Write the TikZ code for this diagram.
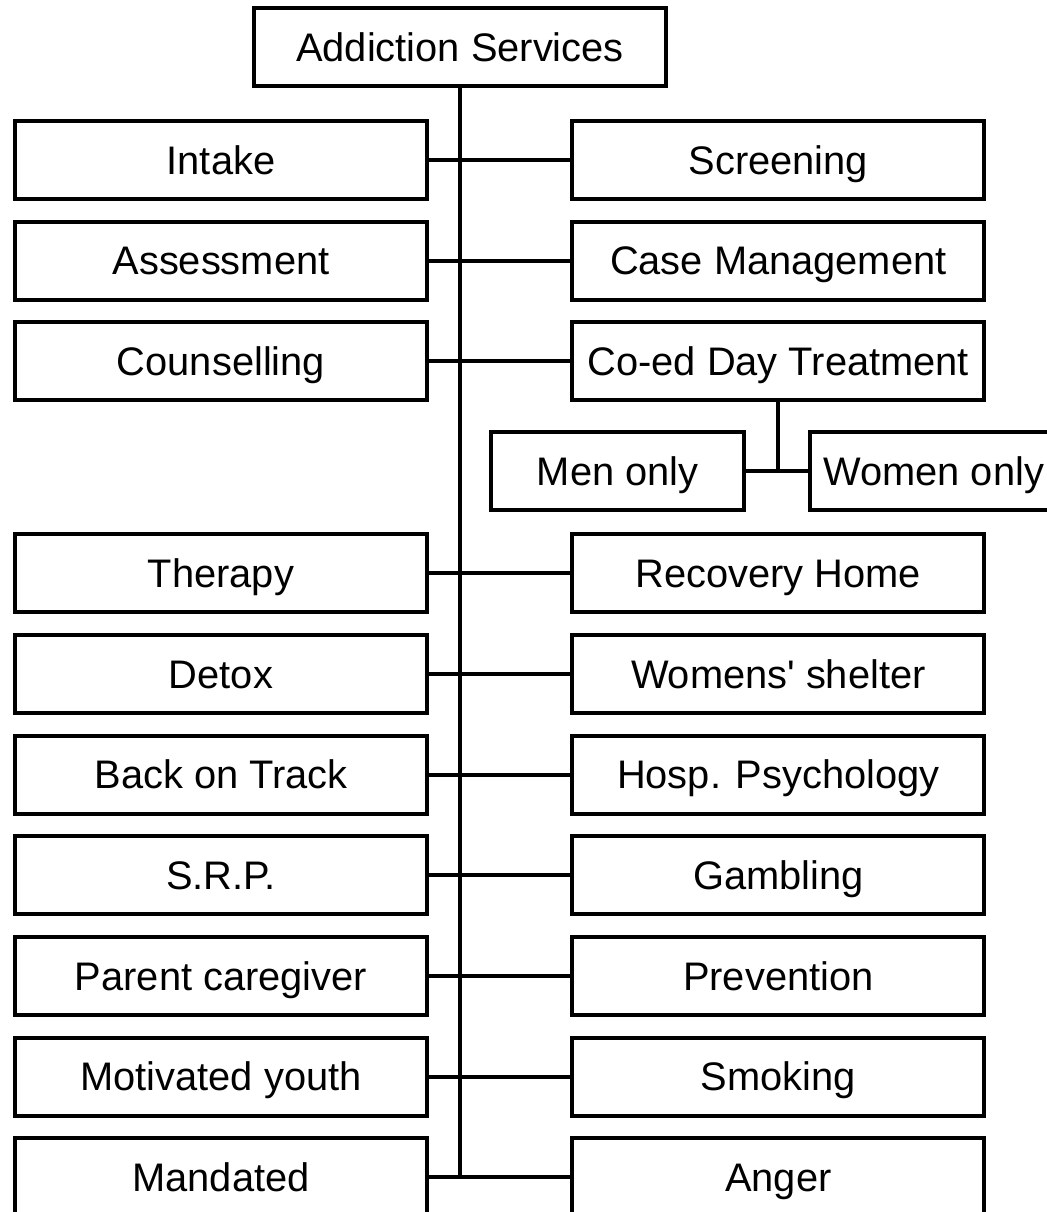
\documentclass[tikz,border=0pt]{standalone}
\usepackage{fontspec}
\setmainfont{Liberation Sans}
\begin{document}
\begin{tikzpicture}[node distance=1.51cm,
        box/.style={rectangle, draw, line width=1.6pt, minimum width=6.18cm, minimum height=1.17cm, text height=12.2pt, text depth=0pt, font=\fontsize{17}{20}\selectfont},
        smallbox/.style={box, minimum width=3.8cm},
        link/.style={line width=1.6pt}]
        \useasboundingbox (0,0) rectangle (15.705,-18.18);
        \clip (0,0) rectangle (15.705,-18.18);
        % Nodes
        \node (top) [box] at (6.9,-0.71) {Addiction Services};
        \node (intake) [box] at (3.315,-2.4) {Intake};
        \node (assessment) [box, below of=intake] {Assessment};
        \node (counselling) [box, below of=assessment] {Counselling};
        \node (therapy) [box, below of=counselling, yshift=-1.67cm] {Therapy};
        \node (detox) [box, below of=therapy] {Detox};
        \node (backtrack) [box, below of=detox] {Back on Track};
        \node (srp) [box, below of=backtrack] {S.R.P.};
        \node (parent) [box, below of=srp] {Parent caregiver};
        \node (youth) [box, below of=parent] {Motivated youth};
        \node (mandated) [box, below of=youth] {Mandated};

        \node (screening) [box, right of=intake, xshift=6.85cm] {Screening};
        \node (casemgmt) [box, right of=assessment, xshift=6.85cm] {Case Management};
        \node (coed) [box, right of=counselling, xshift=6.85cm] {Co-ed Day Treatment};
        \node (recovery) [box, right of=therapy, xshift=6.85cm] {Recovery Home};
        \node (shelter) [box, right of=detox, xshift=6.85cm] {Womens\textquotesingle{} shelter};
        \node (hosp) [box, right of=backtrack, xshift=6.85cm] {Hosp. Psychology};
        \node (gambling) [box, right of=srp, xshift=6.85cm] {Gambling};
        \node (prevention) [box, right of=parent, xshift=6.85cm] {Prevention};
        \node (smoking) [box, right of=youth, xshift=6.85cm] {Smoking};
        \node (anger) [box, right of=mandated, xshift=6.85cm] {Anger};

        \node (men) [smallbox, below of=coed, xshift=-2.41cm, yshift=-0.14cm] {Men only};
        \node (women) [smallbox, minimum width=3.7cm, right of=men, xshift=3.23cm] {Women only};

        % Lines
        \draw[link] (top.south) -- (top.south |- mandated.east);
        \draw[link] (intake.east) -- (screening.west);
        \draw[link] (assessment.east) -- (casemgmt.west);
        \draw[link] (counselling.east) -- (coed.west);
        \draw[link] (therapy.east) -- (recovery.west);
        \draw[link] (detox.east) -- (shelter.west);
        \draw[link] (backtrack.east) -- (hosp.west);
        \draw[link] (srp.east) -- (gambling.west);
        \draw[link] (parent.east) -- (prevention.west);
        \draw[link] (youth.east) -- (smoking.west);
        \draw[link] (mandated.east) -- (anger.west);

        % Co-ed split
        \draw[link] (coed.south) -- (coed.south |- men.east);
        \draw[link] (men.east) -- (women.west);
    \end{tikzpicture}
\end{document}
